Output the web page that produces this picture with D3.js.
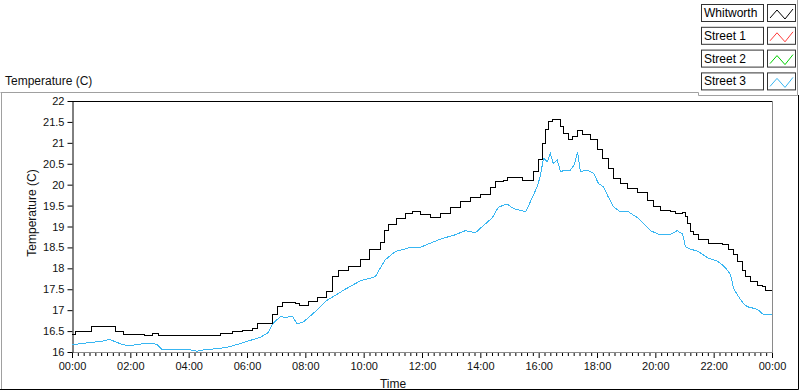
<!DOCTYPE html>
<html>
<head>
<meta charset="utf-8">
<script src="https://cdn.jsdelivr.net/npm/d3@7"></script>
<style>
  html, body { margin: 0; padding: 0; background: #fff; }
  svg { display: block; font-family: "Liberation Sans", Arial, sans-serif; }
</style>
</head>
<body>
<svg id="chart" width="800" height="392"></svg>
<script>
// ---- data (minutes since midnight, temperature in °C) ----
const seriesNames = ["Whitworth", "Street 1", "Street 2", "Street 3"];
const seriesColors = ["#000000", "#ff3b3b", "#00d000", "#38b6f2"];

const whitworthMinutes = [0,8,31,41,84,89,105,150,165,177,202,294,305,331,350,371,381,401,412,422,432,443,459,469,486,506,523,535,548,568,593,613,634,642,651,667,686,700,716,737,758,778,799,819,840,860,871,887,895,922,926,943,949,959,968,974,980,988,998,1005,1011,1021,1029,1040,1050,1066,1081,1091,1103,1114,1128,1143,1163,1184,1196,1210,1231,1241,1256,1262,1266,1272,1278,1289,1299,1309,1324,1338,1350,1361,1369,1379,1385,1396,1410,1420,1427,1440];
const whitworthValues = [16.43,16.5,16.5,16.6,16.6,16.5,16.42,16.4,16.45,16.4,16.4,16.4,16.45,16.5,16.52,16.57,16.67,16.67,16.9,17.08,17.18,17.18,17.15,17.1,17.2,17.3,17.45,17.8,17.95,18.05,18.2,18.45,18.62,18.9,19.05,19.2,19.3,19.35,19.28,19.22,19.3,19.45,19.6,19.7,19.77,19.94,20.07,20.11,20.18,20.18,20.09,20.09,20.31,20.59,20.99,21.31,21.5,21.56,21.56,21.39,21.23,21.07,21.16,21.29,21.19,21.07,20.83,20.63,20.39,20.15,20.03,19.91,19.81,19.63,19.49,19.39,19.37,19.3,19.33,19.23,19.08,18.88,18.8,18.69,18.68,18.6,18.6,18.56,18.44,18.32,18.16,17.96,17.8,17.68,17.6,17.56,17.48,17.48];

const street3Minutes = [0,31,58,78,84,103,119,140,165,175,185,216,243,257,270,298,319,340,362,387,403,414,428,443,453,463,476,496,511,525,541,562,593,624,644,665,696,716,737,758,788,809,830,844,864,877,895,908,922,933,943,949,957,963,970,978,984,990,998,1005,1015,1025,1033,1040,1046,1060,1073,1083,1093,1103,1114,1128,1145,1155,1165,1190,1210,1231,1245,1256,1258,1262,1272,1287,1299,1309,1327,1338,1348,1355,1361,1369,1381,1390,1404,1412,1422,1440];
const street3Values = [16.17,16.22,16.25,16.3,16.27,16.18,16.15,16.19,16.21,16.18,16.06,16.05,16.05,16.02,16.05,16.08,16.11,16.18,16.26,16.35,16.46,16.69,16.84,16.83,16.86,16.67,16.72,16.92,17.08,17.24,17.35,17.5,17.7,17.8,18.2,18.4,18.5,18.5,18.6,18.7,18.8,18.9,18.85,19.0,19.2,19.46,19.54,19.43,19.39,19.35,19.59,19.75,19.95,20.19,20.63,20.55,20.75,20.51,20.59,20.31,20.35,20.35,20.47,20.79,20.31,20.35,20.27,20.03,19.95,19.71,19.47,19.35,19.35,19.27,19.2,18.9,18.8,18.81,18.9,18.82,18.72,18.52,18.46,18.41,18.32,18.24,18.18,18.08,17.96,17.84,17.52,17.36,17.16,17.08,17.04,17.0,16.9,16.9];

const yTicks = [16,16.5,17,17.5,18,18.5,19,19.5,20,20.5,21,21.5,22];
const yTickLabels = ["16","16.5","17","17.5","18","18.5","19","19.5","20","20.5","21","21.5","22"];
const xTickMinutes = [0,120,240,360,480,600,720,840,960,1080,1200,1320,1440];
const xTickLabels = ["00:00","02:00","04:00","06:00","08:00","10:00","12:00","14:00","16:00","18:00","20:00","22:00","00:00"];

// ---- layout ----
const svg = d3.select("#chart");
const L = 72, R = 772, T = 101, B = 352;
const x = d3.scaleLinear().domain([0, 1440]).range([L, R]);
const y = d3.scaleLinear().domain([16, 22]).range([B, T]);

// outer frame
svg.append("path").attr("d", "M0.5,92.5 H698.5 V95.5 H797.5 V0")
  .attr("fill", "none").attr("stroke", "#a0a0a0").attr("stroke-width", 1);
svg.append("line").attr("x1", 1.5).attr("x2", 1.5).attr("y1", 92).attr("y2", 389)
  .attr("stroke", "#a0a0a0");
svg.append("path").attr("d", "M0,389.5 H798.5 V95")
  .attr("fill", "none").attr("stroke", "#000").attr("stroke-width", 1);

// panel title
svg.append("text").attr("x", 5).attr("y", 85).attr("font-size", 12).attr("fill", "#111")
  .text("Temperature (C)");

// plot frame: top black, right & bottom gray
svg.append("line").attr("x1", L).attr("x2", R).attr("y1", T + 0.5).attr("y2", T + 0.5).attr("stroke", "#000");
svg.append("line").attr("x1", R + 0.5).attr("x2", R + 0.5).attr("y1", T).attr("y2", B + 1).attr("stroke", "#8a8a8a");
svg.append("line").attr("x1", L).attr("x2", R + 1).attr("y1", B + 0.5).attr("y2", B + 0.5).attr("stroke", "#8a8a8a");

// y axis
const yAxis = d3.axisLeft(y).tickValues(yTicks)
  .tickFormat((d, i) => yTickLabels[i]).tickSizeInner(5).tickSizeOuter(0).tickPadding(3);
const gy = svg.append("g").attr("transform", `translate(${L + 0.5},0)`).call(yAxis);
gy.select(".domain").attr("stroke", "#000");
gy.selectAll("line").attr("stroke", "#000");
gy.selectAll("text").attr("font-size", 11).attr("fill", "#111").attr("font-family", "Liberation Sans, Arial, sans-serif");

// x axis: minor ticks every 12 minutes
const minorTicks = d3.range(0, 1441, 12).filter(m => m % 120 !== 0);
const xMinor = d3.axisBottom(x).tickValues(minorTicks).tickSize(3).tickFormat("");
const gxm = svg.append("g").attr("transform", `translate(0,${B + 1})`).call(xMinor);
gxm.select(".domain").remove();
gxm.selectAll("line").attr("stroke", "#000");

const xAxis = d3.axisBottom(x).tickValues(xTickMinutes)
  .tickFormat((d, i) => xTickLabels[i]).tickSizeInner(5).tickSizeOuter(0).tickPadding(4);
const gx = svg.append("g").attr("transform", `translate(0,${B + 1})`).call(xAxis);
gx.select(".domain").remove();
gx.selectAll("line").attr("stroke", "#000");
gx.selectAll("text").attr("font-size", 11).attr("fill", "#111").attr("font-family", "Liberation Sans, Arial, sans-serif");

// axis titles
svg.append("text").attr("x", 393).attr("y", 388).attr("text-anchor", "middle")
  .attr("font-size", 12).attr("fill", "#111").text("Time");
svg.append("text").attr("transform", "translate(36,213) rotate(-90)").attr("text-anchor", "middle")
  .attr("font-size", 12).attr("fill", "#111").text("Temperature (C)");

// lines
const stepLine = d3.line().curve(d3.curveStepAfter).x(d => x(d[0])).y(d => y(d[1]));
const plainLine = d3.line().x(d => x(d[0])).y(d => y(d[1]));
const whitworth = whitworthMinutes.map((m, i) => [m, whitworthValues[i]]);
const street3 = street3Minutes.map((m, i) => [m, street3Values[i]]);
svg.append("path").datum(street3).attr("d", plainLine)
  .attr("fill", "none").attr("stroke", seriesColors[3]).attr("stroke-width", 1)
  .attr("shape-rendering", "crispEdges");
svg.append("path").datum(whitworth).attr("d", stepLine)
  .attr("fill", "none").attr("stroke", seriesColors[0]).attr("stroke-width", 1)
  .attr("shape-rendering", "crispEdges");

// legend
const leg = svg.append("g");
seriesNames.forEach((name, i) => {
  const top = 4 + i * 22.8;
  const g = leg.append("g").attr("transform", `translate(0,${top})`);
  g.append("rect").attr("x", 701.5).attr("y", 0.5).attr("width", 62).attr("height", 17)
    .attr("fill", "#fff").attr("stroke", "#333");
  g.append("text").attr("x", 704).attr("y", 13).attr("font-size", 12).attr("fill", "#000").text(name);
  g.append("rect").attr("x", 767.5).attr("y", 0.5).attr("width", 28).attr("height", 17)
    .attr("fill", "#fff").attr("stroke", "#333");
  g.append("path").attr("d", "M770,14 L777,6 L785,15 L793,5")
    .attr("fill", "none").attr("stroke", seriesColors[i]).attr("stroke-width", 1);
});
</script>
</body>
</html>
